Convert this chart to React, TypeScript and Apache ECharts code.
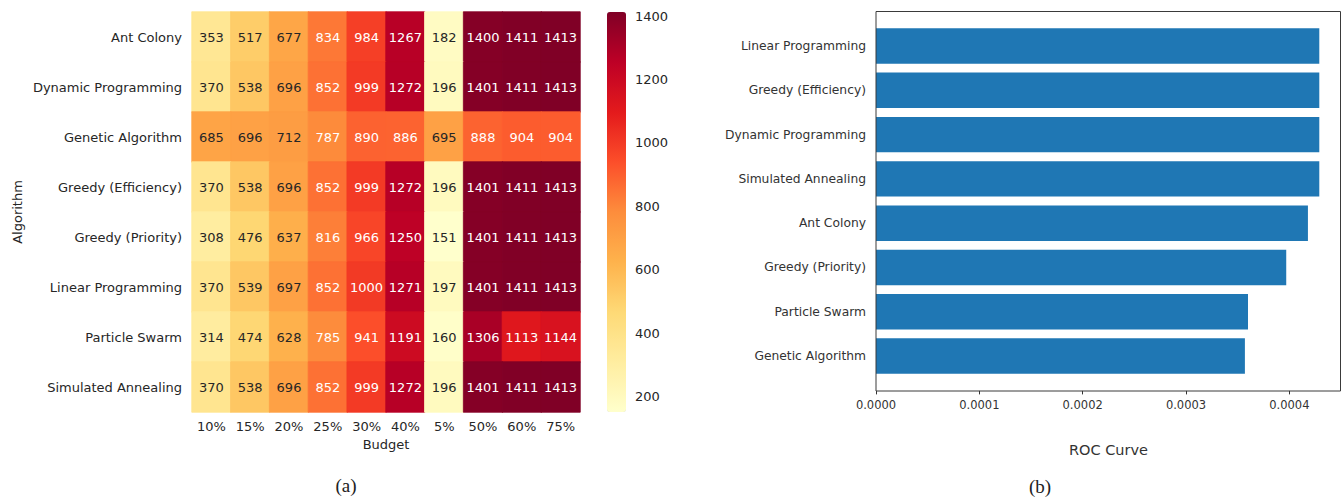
import React, { useEffect, useRef } from "react";
import * as echarts from "echarts";

// ---------- Heatmap data (a) ----------
const budgets = ["10%", "15%", "20%", "25%", "30%", "40%", "5%", "50%", "60%", "75%"];
const algorithms = [
  "Ant Colony",
  "Dynamic Programming",
  "Genetic Algorithm",
  "Greedy (Efficiency)",
  "Greedy (Priority)",
  "Linear Programming",
  "Particle Swarm",
  "Simulated Annealing",
];
const antColony = [353, 517, 677, 834, 984, 1267, 182, 1400, 1411, 1413];
const dynamicProgramming = [370, 538, 696, 852, 999, 1272, 196, 1401, 1411, 1413];
const geneticAlgorithm = [685, 696, 712, 787, 890, 886, 695, 888, 904, 904];
const greedyEfficiency = [370, 538, 696, 852, 999, 1272, 196, 1401, 1411, 1413];
const greedyPriority = [308, 476, 637, 816, 966, 1250, 151, 1401, 1411, 1413];
const linearProgramming = [370, 539, 697, 852, 1000, 1271, 197, 1401, 1411, 1413];
const particleSwarm = [314, 474, 628, 785, 941, 1191, 160, 1306, 1113, 1144];
const simulatedAnnealing = [370, 538, 696, 852, 999, 1272, 196, 1401, 1411, 1413];
const heatRows = [
  antColony,
  dynamicProgramming,
  geneticAlgorithm,
  greedyEfficiency,
  greedyPriority,
  linearProgramming,
  particleSwarm,
  simulatedAnnealing,
];
const colorbarTicks = [200, 400, 600, 800, 1000, 1200, 1400];

// ---------- Bar data (b) ----------
const rocAlgorithms = [
  "Linear Programming",
  "Greedy (Efficiency)",
  "Dynamic Programming",
  "Simulated Annealing",
  "Ant Colony",
  "Greedy (Priority)",
  "Particle Swarm",
  "Genetic Algorithm",
];
const rocValues = [0.000429, 0.000429, 0.000429, 0.000429, 0.000418, 0.000397, 0.00036, 0.000357];
const rocTicks = [0, 0.0001, 0.0002, 0.0003, 0.0004];

const YLORRD = ["#ffffcc", "#ffeda0", "#fed976", "#feb24c", "#fd8d3c", "#fc4e2a", "#e31a1c", "#bd0026", "#800026"];

function hexToRgb(h: string) {
  return [parseInt(h.slice(1, 3), 16), parseInt(h.slice(3, 5), 16), parseInt(h.slice(5, 7), 16)];
}
function colorAt(t: number) {
  const p = Math.max(0, Math.min(1, t)) * (YLORRD.length - 1);
  const i = Math.min(Math.floor(p), YLORRD.length - 2);
  const f = p - i;
  const a = hexToRgb(YLORRD[i]);
  const b = hexToRgb(YLORRD[i + 1]);
  return a.map((v, k) => v + (b[k] - v) * f);
}
function luminance(rgb: number[]) {
  const lin = rgb.map((c) => {
    const s = c / 255;
    return s <= 0.03928 ? s / 12.92 : Math.pow((s + 0.055) / 1.055, 2.4);
  });
  return 0.2126 * lin[0] + 0.7152 * lin[1] + 0.0722 * lin[2];
}

const FONT = "DejaVu Sans";
const TXT = "#262626";

export default function App() {
  const ref = useRef<HTMLDivElement>(null);
  useEffect(() => {
    document.body.style.margin = "0";
    if (!ref.current) return;
    const chart = echarts.init(ref.current, undefined, { renderer: "svg" });

    const all = heatRows.flat();
    const vmin = Math.min(...all);
    const vmax = Math.max(...all);

    const heatData: any[] = [];
    heatRows.forEach((row, yi) => {
      row.forEach((v, xi) => {
        const rgb = colorAt((v - vmin) / (vmax - vmin));
        const lum = luminance(rgb);
        heatData.push({
          value: [xi, yi, v],
          label: { color: lum > 0.408 ? TXT : "#ffffff" },
          itemStyle: {
            borderWidth: 0.8,
            borderColor: `rgb(${rgb.map((c) => Math.round(c)).join(",")})`,
          },
        });
      });
    });

    const option: any = {
      animation: false,
      textStyle: { fontFamily: FONT },
      grid: [
        { left: 192, top: 12, width: 388, height: 400 },
        { left: 607, top: 12, width: 19, height: 400 },
        { left: 876, top: 23.9, width: 465, height: 354.3 },
      ],
      xAxis: [
        {
          gridIndex: 0,
          type: "category",
          data: budgets,
          axisLine: { show: false },
          axisTick: { alignWithLabel: true, length: 4, lineStyle: { color: TXT } },
          axisLabel: { color: TXT, fontSize: 13, margin: 8, fontFamily: FONT },
          name: "Budget",
          nameLocation: "middle",
          nameGap: 25,
          nameTextStyle: { color: TXT, fontSize: 13, fontFamily: FONT },
        },
        { gridIndex: 1, type: "value", show: false, min: 0, max: 1 },
        {
          gridIndex: 2,
          type: "value",
          min: 0,
          max: 0.00045,
          offset: 12.7,
          splitLine: { show: false },
          axisLine: { show: false },
          axisTick: { show: true, length: 3.5, customValues: rocTicks, lineStyle: { color: "#333" } },
          axisLabel: {
            color: "#333",
            fontSize: 11.5,
            margin: 8,
            customValues: rocTicks,
            formatter: (v: number) => v.toFixed(4),
            fontFamily: FONT,
          },
          name: "ROC Curve",
          nameLocation: "middle",
          nameGap: 52,
          nameTextStyle: { color: "#333", fontSize: 14.5, fontFamily: FONT },
        },
      ],
      yAxis: [
        {
          gridIndex: 0,
          type: "category",
          data: algorithms,
          inverse: true,
          axisLine: { show: false },
          axisTick: { alignWithLabel: true, length: 4, lineStyle: { color: TXT } },
          axisLabel: { color: TXT, fontSize: 13, margin: 10, fontFamily: FONT },
          name: "Algorithm",
          nameLocation: "middle",
          nameGap: 168,
          nameTextStyle: { color: TXT, fontSize: 13, fontFamily: FONT },
        },
        {
          gridIndex: 1,
          type: "value",
          position: "right",
          min: vmin,
          max: vmax,
          splitLine: { show: false },
          axisLine: { show: false },
          axisTick: { show: true, length: 4, customValues: colorbarTicks, lineStyle: { color: TXT } },
          axisLabel: {
            color: TXT,
            fontSize: 13,
            margin: 9,
            customValues: colorbarTicks,
            formatter: (v: number) => String(v),
            fontFamily: FONT,
          },
        },
        {
          gridIndex: 2,
          type: "category",
          data: rocAlgorithms,
          inverse: true,
          axisLine: { show: false },
          axisTick: { alignWithLabel: true, length: 4, lineStyle: { color: "#333" } },
          axisLabel: { color: "#333", fontSize: 12.3, margin: 10, fontFamily: FONT },
        },
      ],
      visualMap: {
        type: "continuous",
        seriesIndex: 0,
        dimension: 2,
        min: vmin,
        max: vmax,
        left: 607,
        top: 12,
        itemWidth: 19,
        itemHeight: 400,
        padding: 0,
        calculable: false,
        hoverLink: false,
        inRange: { color: YLORRD },
      },
      series: [
        {
          type: "heatmap",
          xAxisIndex: 0,
          yAxisIndex: 0,
          data: heatData,
          label: { show: true, fontSize: 13, fontFamily: FONT },
          emphasis: { disabled: true },
        },
        {
          type: "bar",
          xAxisIndex: 2,
          yAxisIndex: 2,
          data: rocValues,
          barCategoryGap: "20%",
          itemStyle: { color: "#1f77b4" },
          emphasis: { disabled: true },
        },
      ],
      graphic: [
        {
          type: "rect",
          shape: { x: 876, y: 11.5, width: 464.5, height: 379.5 },
          style: { fill: "none", stroke: "#3a3a3a", lineWidth: 1 },
          z: 10,
        },
        {
          type: "text",
          x: 346,
          y: 485,
          style: {
            text: "(a)",
            fontSize: 19,
            fontFamily: "Liberation Serif",
            fill: "#222",
            align: "center",
            verticalAlign: "middle",
          },
        },
        {
          type: "text",
          x: 1040,
          y: 486,
          style: {
            text: "(b)",
            fontSize: 19,
            fontFamily: "Liberation Serif",
            fill: "#222",
            align: "center",
            verticalAlign: "middle",
          },
        },
      ],
    };

    chart.setOption(option);
    return () => chart.dispose();
  }, []);
  return <div ref={ref} style={{ width: 1342, height: 498 }} />;
}
